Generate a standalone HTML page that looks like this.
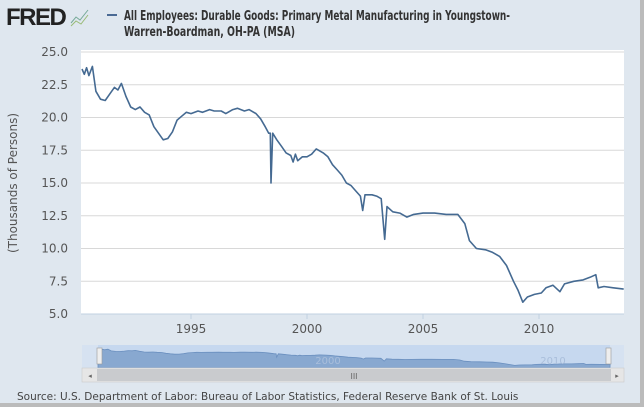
<!DOCTYPE html>
<html><head><meta charset="utf-8"><style>
body{margin:0;width:644px;height:407px;overflow:hidden;background:#fff;}
svg{display:block;font-family:"DejaVu Sans","Liberation Sans",sans-serif;}
</style></head><body>
<svg id="s" width="644" height="407" viewBox="0 0 644 407">
<rect x="0" y="0" width="640" height="403" fill="#dfe7ef"/>
<rect x="0" y="403" width="644" height="4" fill="#bbb"/>
<rect x="640" y="0" width="4" height="407" fill="#bbb"/>
<text x="6" y="25" font-family="Liberation Sans" font-weight="bold" font-size="24" fill="#222" letter-spacing="-1.5">FRED</text>
<polyline points="71,23 76,17 80,20 88,10" fill="none" stroke="#7a9" stroke-width="1"/>
<polyline points="71,26 76,21 81,24 88,15" fill="none" stroke="#9b7" stroke-width="1"/>
<line x1="107" y1="15" x2="117" y2="15" stroke="#4a6a94" stroke-width="2"/>
<text x="124" y="20" font-size="13" fill="#333" font-weight="bold" textLength="386" lengthAdjust="spacingAndGlyphs">All Employees: Durable Goods: Primary Metal Manufacturing in Youngstown-</text>
<text x="124" y="36" font-size="13" fill="#333" font-weight="bold" textLength="171" lengthAdjust="spacingAndGlyphs">Warren-Boardman, OH-PA (MSA)</text>
<rect x="81" y="50" width="543" height="264" fill="#fff"/>
<g id="grid" stroke="#d8d8d8" stroke-width="1"></g>
<g id="ylab" font-size="12" fill="#555" text-anchor="end"></g>
<text transform="translate(17,183) rotate(-90)" font-size="12" fill="#555" text-anchor="middle">(Thousands of Persons)</text>
<g id="xlab" font-size="12" fill="#555" text-anchor="middle"></g>
<polyline id="line" fill="none" stroke="#456a92" stroke-width="1.6" stroke-linejoin="round"/>
<rect x="82" y="345" width="542" height="23" fill="#d6e2f1"/>
<rect x="98" y="345" width="512" height="23" fill="#c6d8ef"/>
<path id="area" fill="#88a8d0" stroke="#6a8fbf" stroke-width="0.8"/>
<text x="328" y="364" font-size="10" fill="#a9bedb" text-anchor="middle">2000</text>
<text x="553" y="364" font-size="10" fill="#a9bedb" text-anchor="middle">2010</text>
<rect x="97" y="348" width="5" height="16" fill="#eee" stroke="#999" stroke-width="0.6"/>
<rect x="606" y="348" width="5" height="16" fill="#eee" stroke="#999" stroke-width="0.6"/>
<rect x="82" y="368" width="542" height="14" fill="#e6e6e6" stroke="#ccc" stroke-width="0.6"/>
<rect x="97" y="369" width="514" height="12" fill="#c9cbce"/>
<text x="90" y="378" font-size="7" fill="#666" text-anchor="middle">◂</text>
<text x="617" y="378" font-size="7" fill="#666" text-anchor="middle">▸</text>
<text x="354" y="379" font-size="8" fill="#666" text-anchor="middle">III</text>
<text x="17" y="400" font-size="10.5" fill="#444">Source: U.S. Department of Labor: Bureau of Labor Statistics, Federal Reserve Bank of St. Louis</text>
</svg>
<script>
var ns="http://www.w3.org/2000/svg";
function Y(v){return 314-(v-5)*13.1;}
function X(t){return 191+(t-1995)*23.2;}
var g=document.getElementById('grid'),yl=document.getElementById('ylab'),xl=document.getElementById('xlab');
for(var v=5;v<=25.01;v+=2.5){var y=Y(v);
 if(v>5){var l=document.createElementNS(ns,'line');l.setAttribute('x1',81);l.setAttribute('x2',624);l.setAttribute('y1',y);l.setAttribute('y2',y);g.appendChild(l);}
 var t=document.createElementNS(ns,'text');t.setAttribute('x',68);t.setAttribute('y',y+4);t.textContent=v.toFixed(1);yl.appendChild(t);}
var bl=document.createElementNS(ns,'line');bl.setAttribute('x1',81);bl.setAttribute('x2',624);bl.setAttribute('y1',314);bl.setAttribute('y2',314);bl.setAttribute('stroke','#c0d0e0');g.appendChild(bl);
[1995,2000,2005,2010].forEach(function(yr){var x=X(yr);
 var l=document.createElementNS(ns,'line');l.setAttribute('x1',x);l.setAttribute('x2',x);l.setAttribute('y1',314);l.setAttribute('y2',319);l.setAttribute('stroke','#c0d0e0');g.appendChild(l);
 var t=document.createElementNS(ns,'text');t.setAttribute('x',x);t.setAttribute('y',333);t.textContent=yr;xl.appendChild(t);});
var d=[[1990.3,23.7],[1990.4,23.3],[1990.5,23.8],[1990.6,23.2],[1990.75,23.9],[1990.9,22.0],[1991.1,21.4],[1991.3,21.3],[1991.5,21.8],[1991.7,22.3],[1991.85,22.1],[1992.0,22.6],[1992.2,21.6],[1992.4,20.8],[1992.6,20.6],[1992.8,20.8],[1993.0,20.4],[1993.2,20.2],[1993.4,19.3],[1993.6,18.8],[1993.8,18.3],[1994.0,18.4],[1994.2,18.9],[1994.4,19.8],[1994.6,20.1],[1994.8,20.4],[1995.0,20.3],[1995.3,20.5],[1995.5,20.4],[1995.8,20.6],[1996.0,20.5],[1996.3,20.5],[1996.5,20.3],[1996.8,20.6],[1997.0,20.7],[1997.3,20.5],[1997.5,20.6],[1997.8,20.3],[1998.0,19.9],[1998.2,19.3],[1998.35,18.8],[1998.42,18.8],[1998.45,15.0],[1998.52,18.8],[1998.7,18.3],[1998.9,17.8],[1999.1,17.3],[1999.3,17.1],[1999.4,16.6],[1999.5,17.2],[1999.6,16.7],[1999.8,17.0],[2000.0,17.0],[2000.2,17.2],[2000.4,17.6],[2000.7,17.3],[2000.9,17.0],[2001.1,16.4],[2001.3,16.0],[2001.5,15.6],[2001.7,15.0],[2001.9,14.8],[2002.1,14.4],[2002.3,14.0],[2002.4,12.9],[2002.5,14.1],[2002.8,14.1],[2003.0,14.0],[2003.2,13.8],[2003.35,10.7],[2003.45,13.2],[2003.7,12.8],[2004.0,12.7],[2004.3,12.4],[2004.6,12.6],[2005.0,12.7],[2005.5,12.7],[2006.0,12.6],[2006.5,12.6],[2006.8,11.9],[2007.0,10.6],[2007.3,10.0],[2007.7,9.9],[2008.0,9.7],[2008.3,9.4],[2008.6,8.7],[2008.9,7.5],[2009.1,6.8],[2009.3,5.9],[2009.5,6.3],[2009.8,6.5],[2010.1,6.6],[2010.3,7.0],[2010.6,7.2],[2010.9,6.7],[2011.1,7.3],[2011.5,7.5],[2011.9,7.6],[2012.2,7.8],[2012.45,8.0],[2012.55,7.0],[2012.8,7.1],[2013.2,7.0],[2013.65,6.9]];
document.getElementById('line').setAttribute('points',d.map(function(p){return X(p[0]).toFixed(1)+','+Y(p[1]).toFixed(1);}).join(' '));
function NX(t){return 98+(t-1990.3)*21.93;}function NY(v){return 368-(v-3)*0.9;}
var a='M98,368 '+d.map(function(p){return 'L'+NX(p[0]).toFixed(1)+','+NY(p[1]).toFixed(1);}).join(' ')+' L610,368 Z';
document.getElementById('area').setAttribute('d',a);
</script>
</body></html>
